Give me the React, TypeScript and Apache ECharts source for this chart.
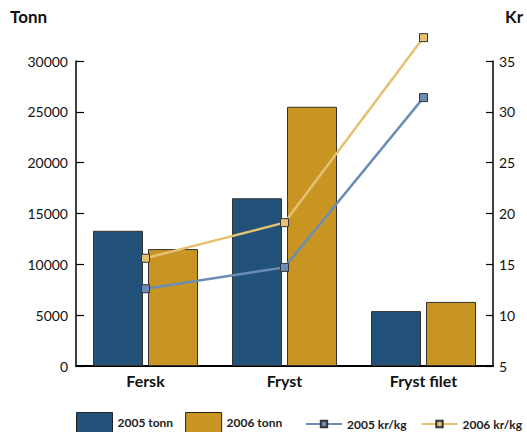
import React, { useEffect, useRef } from "react";
import * as echarts from "echarts";

const categories = ["Fersk", "Fryst", "Fryst filet"];
const tonn2005 = [13300, 16500, 5400];
const tonn2006 = [11500, 25500, 6300];
const kr2005 = [12.6, 14.7, 31.4];
const kr2006 = [15.6, 19.1, 37.3];
const leftTicks = { min: 0, max: 30000, interval: 5000 };
const rightTicks = { min: 5, max: 35, interval: 5 };

const FONT = "Lato";

export default function App() {
  const ref = useRef<HTMLDivElement>(null);
  useEffect(() => {
    if (!ref.current) return;
    const chart = echarts.init(ref.current, undefined, { renderer: "svg" });
    chart.setOption({
      animation: false,
      backgroundColor: "#ffffff",
      textStyle: { fontFamily: FONT },
      grid: { left: 76, right: 34, top: 61, bottom: 66, containLabel: false },
      graphic: [
        { type: "text", left: 10, top: 8, style: { text: "Tonn", font: `bold 17px ${FONT}`, fill: "#111" } },
        { type: "text", left: 505, top: 8, style: { text: "Kr", font: `bold 17px ${FONT}`, fill: "#111" } },
      ],
      legend: [
        {
          data: ["2005 tonn", "2006 tonn"],
          icon: "rect",
          left: 76,
          top: 412,
          padding: 0,
          itemWidth: 36,
          itemHeight: 20,
          itemGap: 12,
          itemStyle: { borderColor: "#222", borderWidth: 1 },
          textStyle: { fontFamily: FONT, fontWeight: "bold", fontSize: 12, color: "#222" },
        },
        {
          data: ["2005 kr/kg", "2006 kr/kg"],
          left: 305,
          top: 418,
          padding: 0,
          itemWidth: 36,
          itemHeight: 8,
          itemGap: 14,
          textStyle: { fontFamily: FONT, fontWeight: "bold", fontSize: 12, color: "#222" },
        },
      ],
      xAxis: {
        type: "category",
        data: categories,
        axisLine: { lineStyle: { color: "#000", width: 2 } },
        axisTick: { inside: true, length: 7, lineStyle: { color: "#000", width: 1.5 } },
        axisLabel: { fontFamily: FONT, fontWeight: "bold", fontSize: 16, color: "#111", margin: 6 },
      },
      yAxis: [
        {
          type: "value",
          ...leftTicks,
          axisLine: { show: true, lineStyle: { color: "#000", width: 1.5 } },
          axisTick: { show: true, inside: true, length: 8, lineStyle: { color: "#000", width: 1.2 } },
          axisLabel: { fontFamily: FONT, fontSize: 14, color: "#111", margin: 8, formatter: (v: number) => String(v) },
          splitLine: { show: false },
        },
        {
          type: "value",
          ...rightTicks,
          position: "right",
          axisLine: { show: true, lineStyle: { color: "#000", width: 1.5 } },
          axisTick: { show: true, inside: true, length: 7, lineStyle: { color: "#000", width: 1.2 } },
          axisLabel: { fontFamily: FONT, fontSize: 14, color: "#111", margin: 6 },
          splitLine: { show: false },
        },
      ],
      series: [
        {
          name: "2005 tonn",
          type: "bar",
          data: tonn2005,
          barWidth: 50,
          barGap: "10%",
          itemStyle: { color: "#22527a", borderColor: "#333", borderWidth: 1 },
        },
        {
          name: "2006 tonn",
          type: "bar",
          data: tonn2006,
          barWidth: 50,
          barGap: "10%",
          itemStyle: { color: "#c99522", borderColor: "#333", borderWidth: 1 },
        },
        {
          name: "2005 kr/kg",
          type: "line",
          yAxisIndex: 1,
          data: kr2005,
          clip: false,
          symbol: "rect",
          symbolSize: 8,
          lineStyle: { color: "#6b8db5", width: 2.5 },
          itemStyle: { color: "#6b8db5", borderColor: "#333", borderWidth: 1 },
          z: 5,
        },
        {
          name: "2006 kr/kg",
          type: "line",
          yAxisIndex: 1,
          data: kr2006,
          clip: false,
          symbol: "rect",
          symbolSize: 8,
          lineStyle: { color: "#e6c172", width: 2.5 },
          itemStyle: { color: "#e6c172", borderColor: "#333", borderWidth: 1 },
          z: 5,
        },
      ],
    });
    return () => chart.dispose();
  }, []);
  return (
    <div
      ref={ref}
      style={{ position: "fixed", left: 0, top: 0, width: 527, height: 432 }}
    />
  );
}
